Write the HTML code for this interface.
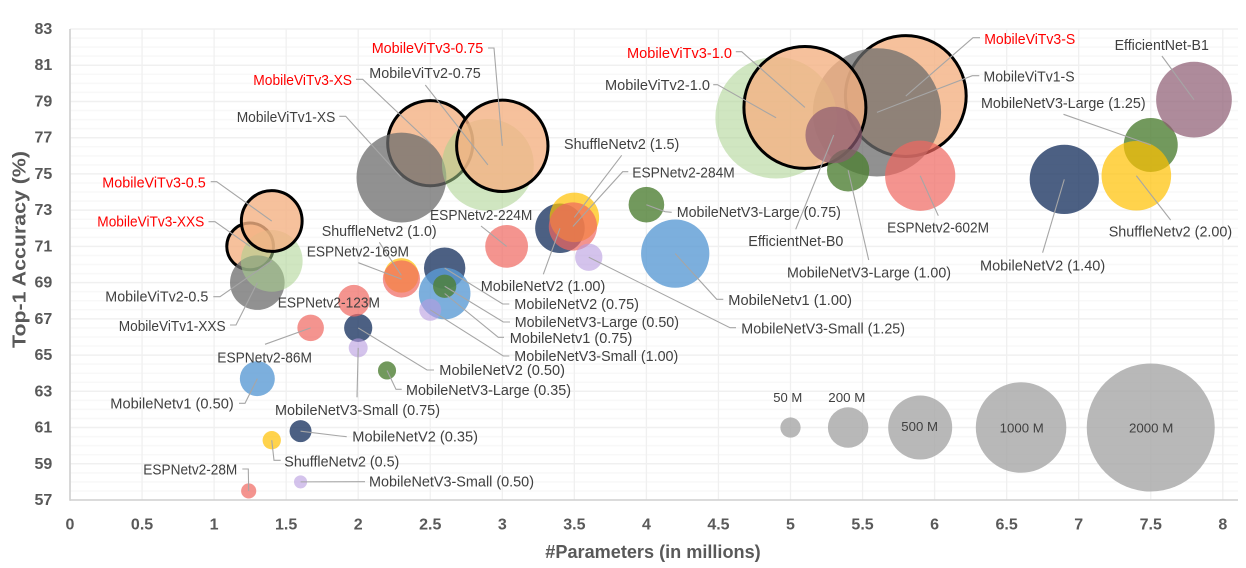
<!DOCTYPE html>
<html lang="en">
<head>
<meta charset="utf-8">
<title>Top-1 Accuracy vs Parameters bubble chart</title>
<style>
html,body{margin:0;padding:0;background:#fff;width:1246px;height:568px;overflow:hidden}
svg{display:block}
text{font-family:"Liberation Sans",sans-serif}
.lbl{font-size:15px;fill:#404040}
.red{fill:#ff0000}
.leg{font-size:13px;fill:#404040}
.tick{font-size:16px;font-weight:700;fill:#595959}
.title{font-size:18.5px;font-weight:700;fill:#595959}
</style>
</head>
<body>
<svg id="chart" xmlns="http://www.w3.org/2000/svg" width="1246" height="568" viewBox="0 0 1246 568">
  <rect x="0" y="0" width="1246" height="568" fill="#ffffff"/>
  <g id="grid"></g>
  <g id="axes"></g>
  <g id="legend-bubbles"></g>
  <g id="bubbles"></g>
  <g id="leaders"></g>
  <g id="labels">
    <text class="lbl red" x="102.3" y="187.3" textLength="103.4" lengthAdjust="spacingAndGlyphs" data-via="210.7,181.7 216.7,181.7">MobileViTv3-0.5</text>
    <text class="lbl red" x="97.3" y="226.7" textLength="107" lengthAdjust="spacingAndGlyphs" data-via="208.5,221.7 215,221.7">MobileViTv3-XXS</text>
    <text class="lbl red" x="253.3" y="85" textLength="98.7" lengthAdjust="spacingAndGlyphs" data-via="356,79.3 362.7,79.3">MobileViTv3-XS</text>
    <text class="lbl red" x="371.7" y="53" textLength="111.6" lengthAdjust="spacingAndGlyphs" data-via="488,48 494,48">MobileViTv3-0.75</text>
    <text class="lbl red" x="627" y="58" textLength="105" lengthAdjust="spacingAndGlyphs" data-via="735.8,51.7 741.7,51.7">MobileViTv3-1.0</text>
    <text class="lbl red" x="984.2" y="44" textLength="91.1" lengthAdjust="spacingAndGlyphs" data-via="980,37.7 973,37.7">MobileViTv3-S</text>
    <text class="lbl" x="236.7" y="122" textLength="98.6" lengthAdjust="spacingAndGlyphs" data-via="339.3,116.3 345.7,116.3">MobileViTv1-XS</text>
    <text class="lbl" x="369.3" y="78" textLength="111.4" lengthAdjust="spacingAndGlyphs" data-via="425.3,85">MobileViTv2-0.75</text>
    <text class="lbl" x="605" y="90" textLength="105" lengthAdjust="spacingAndGlyphs" data-via="713.2,84.7 717.4,84.7">MobileViTv2-1.0</text>
    <text class="lbl" x="983.5" y="81.3" textLength="91.1" lengthAdjust="spacingAndGlyphs" data-via="979.3,75.7 972.3,75.7">MobileViTv1-S</text>
    <text class="lbl" x="105.3" y="301.7" textLength="103" lengthAdjust="spacingAndGlyphs" data-via="213.3,296.7 220,296.7">MobileViTv2-0.5</text>
    <text class="lbl" x="118.7" y="331" textLength="107" lengthAdjust="spacingAndGlyphs" data-via="230,325 236,325">MobileViTv1-XXS</text>
    <text class="lbl" x="1114.6" y="50" textLength="94.3" lengthAdjust="spacingAndGlyphs" data-via="1161.9,56">EfficientNet-B1</text>
    <text class="lbl" x="748.3" y="246" textLength="95" lengthAdjust="spacingAndGlyphs" data-via="795.7,229.3">EfficientNet-B0</text>
    <text class="lbl" x="981" y="108" textLength="164.6" lengthAdjust="spacingAndGlyphs" data-via="1063.5,114.3">MobileNetV3-Large (1.25)</text>
    <text class="lbl" x="787" y="277.3" textLength="164" lengthAdjust="spacingAndGlyphs" data-via="868.7,260">MobileNetV3-Large (1.00)</text>
    <text class="lbl" x="676.7" y="217" textLength="164.2" lengthAdjust="spacingAndGlyphs" data-via="671.7,212.3 665,211.7">MobileNetV3-Large (0.75)</text>
    <text class="lbl" x="514.7" y="327" textLength="164.3" lengthAdjust="spacingAndGlyphs" data-via="510,322 503.3,322">MobileNetV3-Large (0.50)</text>
    <text class="lbl" x="406" y="395" textLength="165" lengthAdjust="spacingAndGlyphs" data-via="401.7,389.3 396,389.3">MobileNetV3-Large (0.35)</text>
    <text class="lbl" x="1108.7" y="236.7" textLength="123.5" lengthAdjust="spacingAndGlyphs" data-via="1170.6,220">ShuffleNetv2 (2.00)</text>
    <text class="lbl" x="564" y="149" textLength="115.3" lengthAdjust="spacingAndGlyphs" data-via="621.7,155.3">ShuffleNetv2 (1.5)</text>
    <text class="lbl" x="321.7" y="236" textLength="115" lengthAdjust="spacingAndGlyphs" data-via="379.3,242.3">ShuffleNetv2 (1.0)</text>
    <text class="lbl" x="284.3" y="466.3" textLength="115" lengthAdjust="spacingAndGlyphs" data-via="280.7,460.3 274,460.3">ShuffleNetv2 (0.5)</text>
    <text class="lbl" x="980" y="270.3" textLength="125.2" lengthAdjust="spacingAndGlyphs" data-via="1042.6,252.7">MobileNetV2 (1.40)</text>
    <text class="lbl" x="480.7" y="291" textLength="124.6" lengthAdjust="spacingAndGlyphs" data-via="543.3,274.3">MobileNetV2 (1.00)</text>
    <text class="lbl" x="514.3" y="309" textLength="124.7" lengthAdjust="spacingAndGlyphs" data-via="509.3,304 502.7,304">MobileNetV2 (0.75)</text>
    <text class="lbl" x="439.3" y="375" textLength="125.7" lengthAdjust="spacingAndGlyphs" data-via="434,370 427,370">MobileNetV2 (0.50)</text>
    <text class="lbl" x="352.3" y="441.7" textLength="125.7" lengthAdjust="spacingAndGlyphs" data-via="346.7,436.7 340,436">MobileNetV2 (0.35)</text>
    <text class="lbl" x="728.3" y="305" textLength="123.7" lengthAdjust="spacingAndGlyphs" data-via="723.3,299.3 716.7,299.3">MobileNetv1 (1.00)</text>
    <text class="lbl" x="509.7" y="343" textLength="122.6" lengthAdjust="spacingAndGlyphs" data-via="504,337.3 498.3,337.3">MobileNetv1 (0.75)</text>
    <text class="lbl" x="110.3" y="408.3" textLength="123.4" lengthAdjust="spacingAndGlyphs" data-via="239,403.3 245,403.3">MobileNetv1 (0.50)</text>
    <text class="lbl" x="741.3" y="333.3" textLength="163.7" lengthAdjust="spacingAndGlyphs" data-via="736,327.7 730,327.7">MobileNetV3-Small (1.25)</text>
    <text class="lbl" x="514.3" y="361" textLength="164" lengthAdjust="spacingAndGlyphs" data-via="509.3,356 503.3,356">MobileNetV3-Small (1.00)</text>
    <text class="lbl" x="275" y="415" textLength="165" lengthAdjust="spacingAndGlyphs" data-via="357,397.3">MobileNetV3-Small (0.75)</text>
    <text class="lbl" x="369" y="486.7" textLength="165" lengthAdjust="spacingAndGlyphs" data-via="365,481.7">MobileNetV3-Small (0.50)</text>
    <text class="lbl" x="887.1" y="232.3" textLength="101.9" lengthAdjust="spacingAndGlyphs" data-via="938.3,215.7">ESPNetv2-602M</text>
    <text class="lbl" x="632.3" y="177.7" textLength="102.4" lengthAdjust="spacingAndGlyphs" data-via="628.3,171.7 622.7,171.7">ESPNetv2-284M</text>
    <text class="lbl" x="430" y="220" textLength="102.3" lengthAdjust="spacingAndGlyphs" data-via="481,226">ESPNetv2-224M</text>
    <text class="lbl" x="306.7" y="256.7" textLength="102.3" lengthAdjust="spacingAndGlyphs" data-via="358.3,262.7">ESPNetv2-169M</text>
    <text class="lbl" x="277.7" y="307.3" textLength="102.3" lengthAdjust="spacingAndGlyphs">ESPNetv2-123M</text>
    <text class="lbl" x="217.3" y="362.3" textLength="94.7" lengthAdjust="spacingAndGlyphs" data-via="265,344.3">ESPNetv2-86M</text>
    <text class="lbl" x="143.3" y="474.3" textLength="94" lengthAdjust="spacingAndGlyphs" data-via="242.3,469 248.3,469">ESPNetv2-28M</text>
  </g>
  <g id="legend-labels">
    <text class="leg" x="773.3" y="402" textLength="29" lengthAdjust="spacingAndGlyphs">50 M</text>
    <text class="leg" x="828.3" y="402" textLength="37" lengthAdjust="spacingAndGlyphs">200 M</text>
    <text class="leg" x="901.3" y="431" textLength="36.7" lengthAdjust="spacingAndGlyphs">500 M</text>
    <text class="leg" x="999.7" y="432.4" textLength="44" lengthAdjust="spacingAndGlyphs">1000 M</text>
    <text class="leg" x="1129" y="432.4" textLength="44.3" lengthAdjust="spacingAndGlyphs">2000 M</text>
  </g>
  <text class="title" x="545.3" y="558" textLength="215.4" lengthAdjust="spacingAndGlyphs">#Parameters (in millions)</text>
  <text class="title" transform="translate(25.5 348) rotate(-90)" x="0" y="0" textLength="197" lengthAdjust="spacingAndGlyphs">Top-1 Accuracy (%)</text>
</svg>
<script>
// ---- chart data ----
const modelNames = [
  'MobileViTv3-XXS','MobileViTv3-XS','MobileViTv3-S',
  'MobileViTv1-XXS','MobileViTv1-XS','MobileViTv1-S',
  'MobileViTv2-0.5','MobileViTv2-0.75','MobileViTv2-1.0',
  'MobileViTv3-0.5','MobileViTv3-0.75','MobileViTv3-1.0',
  'MobileNetV2 (0.35)','MobileNetV2 (0.50)','MobileNetV2 (0.75)','MobileNetV2 (1.00)','MobileNetV2 (1.40)',
  'MobileNetv1 (0.50)','MobileNetv1 (0.75)','MobileNetv1 (1.00)',
  'MobileNetV3-Large (0.35)','MobileNetV3-Large (0.50)','MobileNetV3-Large (0.75)','MobileNetV3-Large (1.00)','MobileNetV3-Large (1.25)',
  'ShuffleNetv2 (0.5)','ShuffleNetv2 (1.0)','ShuffleNetv2 (1.5)','ShuffleNetv2 (2.00)',
  'ESPNetv2-28M','ESPNetv2-86M','ESPNetv2-123M','ESPNetv2-169M','ESPNetv2-224M','ESPNetv2-284M','ESPNetv2-602M',
  'MobileNetV3-Small (0.50)','MobileNetV3-Small (0.75)','MobileNetV3-Small (1.00)','MobileNetV3-Small (1.25)',
  'EfficientNet-B0','EfficientNet-B1'
];
const modelFamilies = [
  'vit3','vit3','vit3',
  'vit1','vit1','vit1',
  'vit2','vit2','vit2',
  'vit3','vit3','vit3',
  'mnv2','mnv2','mnv2','mnv2','mnv2',
  'mnv1','mnv1','mnv1',
  'mnv3l','mnv3l','mnv3l','mnv3l','mnv3l',
  'shuffle','shuffle','shuffle','shuffle',
  'esp','esp','esp','esp','esp','esp','esp',
  'mnv3s','mnv3s','mnv3s','mnv3s',
  'eff','eff'
];
const paramsMillions = [
  1.25,2.5,5.8,
  1.3,2.3,5.6,
  1.4,2.9,4.9,
  1.4,3.0,5.1,
  1.6,2.0,2.6,3.4,6.9,
  1.3,2.6,4.2,
  2.2,2.6,4.0,5.4,7.5,
  1.4,2.3,3.5,7.4,
  1.24,1.67,1.97,2.3,3.03,3.49,5.9,
  1.6,2.0,2.5,3.6,
  5.3,7.8
];
const top1Accuracy = [
  71.0,76.7,79.3,
  69.0,74.8,78.4,
  70.2,75.5,78.1,
  72.4,76.55,78.67,
  60.8,66.5,69.8,72.0,74.7,
  63.7,68.4,70.6,
  64.15,68.8,73.3,75.2,76.6,
  60.3,69.4,72.6,74.9,
  57.5,66.5,68.0,69.2,71.0,72.1,74.9,
  58.0,65.4,67.5,70.4,
  77.15,79.1
];
const macsMillions = [
  289,927,1841,
  364,986,2009,
  466,1030,1800,
  481,1064,1876,
  59,97,209,300,585,
  149,325,569,
  40,66,155,219,356,
  41,146,299,591,
  28,86,123,169,224,284,602,
  21,44,59,91,
  390,700
];
const xTickLabels = ['0','0.5','1','1.5','2','2.5','3','3.5','4','4.5','5','5.5','6','6.5','7','7.5','8'];
const yTickLabels = ['57','59','61','63','65','67','69','71','73','75','77','79','81','83'];
const legendMacs = [50,200,500,1000,2000];
const legendParams = [5,5.4,5.9,6.6,7.5];
const legendAccuracy = [61,61,61,61,61];

// ---- scales ----
function xScale(v){ return 70 + 144.1 * v; }
function yScale(v){ return 500 - (v - 57) * 18.115; }
function rScale(m){ return 64 * Math.sqrt(m / 2000); }

const familyFill = {
  vit3:{c:'#f4b183',o:.8}, vit1:{c:'#6c6c6c',o:.75}, vit2:{c:'#a9d18e',o:.55},
  mnv2:{c:'#1f3864',o:.8}, mnv1:{c:'#5b9bd5',o:.8}, mnv3l:{c:'#4f8035',o:.8},
  shuffle:{c:'#ffc000',o:.7}, esp:{c:'#f0665f',o:.7}, mnv3s:{c:'#b79be0',o:.6}, eff:{c:'#8c5a70',o:.7}
};
const NS = 'http://www.w3.org/2000/svg';
function mk(tag, attrs, parent){
  const el = document.createElementNS(NS, tag);
  for (const k in attrs) el.setAttribute(k, attrs[k]);
  parent.appendChild(el);
  return el;
}

// gridlines
const gridG = document.getElementById('grid');
for (let v = 57; v <= 83.001; v += 0.5) {
  const major = Math.abs((v - 57) % 2) < 0.001;
  if (Math.abs(v - 57) < 0.001) continue;
  const ln = mk('line', {x1:70, x2:1238, y1:yScale(v), y2:yScale(v), stroke: major ? '#f0f0f0' : '#f8f8f8', 'stroke-width':1.5}, gridG);
  
  
}
xTickLabels.forEach(function(t){
  if (t === '0') return;
  const ln = mk('line', {x1:xScale(+t), x2:xScale(+t), y1:29, y2:500, stroke:'#f0f0f0', 'stroke-width':1.3}, gridG);
  
  
});

// axes and tick labels
const axesG = document.getElementById('axes');
const yAxisLine = mk('line', {x1:70, x2:70, y1:29, y2:500.8, stroke:'#cfcfcf', 'stroke-width':1.6}, axesG);


const xAxisLine = mk('line', {x1:70, x2:1238, y1:500, y2:500, stroke:'#cfcfcf', 'stroke-width':1.6}, axesG);


xTickLabels.forEach(function(t){
  const el = mk('text', {x:xScale(+t), y:529.5, 'text-anchor':'middle', 'class':'tick'}, axesG);
  
  
  el.textContent = t;
});
yTickLabels.forEach(function(t){
  const el = mk('text', {x:52.3, y:yScale(+t) + 5, 'text-anchor':'end', 'class':'tick'}, axesG);
  
  
  el.textContent = t;
});

// size legend
const legG = document.getElementById('legend-bubbles');
legendMacs.forEach(function(m, i){
  const c = mk('circle', {cx:xScale(legendParams[i]), cy:yScale(legendAccuracy[i]), r:rScale(m), fill:'#a6a6a6', 'fill-opacity':.8}, legG);
  
  
});

// bubbles
const bubG = document.getElementById('bubbles');
modelNames.forEach(function(name, i){
  const fam = modelFamilies[i];
  const st = familyFill[fam];
  const c = mk('circle', {cx:xScale(paramsMillions[i]), cy:yScale(top1Accuracy[i]), fill:st.c, 'fill-opacity':st.o}, bubG);
  c.setAttribute('r', fam === 'vit3' ? rScale(macsMillions[i]) - 1 : rScale(macsMillions[i]));
  if (fam === 'vit3') { c.setAttribute('stroke', '#000000'); c.setAttribute('stroke-width', '3'); }
  
  
});

// leader lines: label anchor points live on each label, the far end follows the bubble
const leadG = document.getElementById('leaders');
document.querySelectorAll('#labels text').forEach(function(t){
  const via = t.getAttribute('data-via');
  if (!via) return;
  const i = modelNames.indexOf(t.textContent);
  if (i < 0) return;
  const pts = via + ' ' + xScale(paramsMillions[i]) + ',' + yScale(top1Accuracy[i]);
  const p = mk('polyline', {points:pts, fill:'none', stroke:'#a6a6a6', 'stroke-width':1.1}, leadG);
  
  
});
</script>
</body>
</html>
